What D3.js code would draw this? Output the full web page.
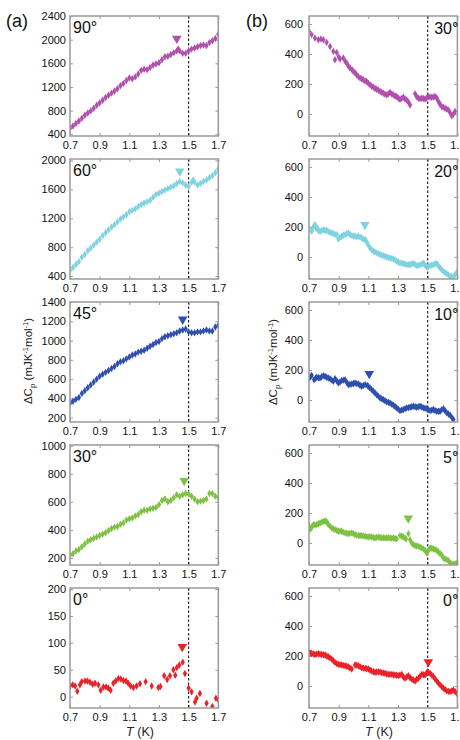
<!DOCTYPE html>
<html><head><meta charset="utf-8">
<script src="https://cdn.jsdelivr.net/npm/d3@7"></script>
<style>body{margin:0;background:#fff}svg{display:block;font-family:Arial,"Liberation Sans",sans-serif}</style>
</head><body><svg id="c" width="460" height="740"></svg>
<script>
// ---------- data ----------
const xTicks = [0.7, 0.9, 1.1, 1.3, 1.5, 1.7];
const angleLabelsA = ["90°", "60°", "45°", "30°", "0°"];
const angleLabelsB = ["30°", "20°", "10°", "5°", "0°"];
const yTicksA = [[400,800,1200,1600,2000,2400],[400,800,1200,1600,2000],[200,400,600,800,1000,1200,1400],[200,400,600,800,1000],[0,50,100,150,200]];
const yTicksB = [0,200,400,600];
const colors = ["#b14fae","#7fd3e0","#2e4fad","#7dc242","#e8232b"];

const s90 = [[0.70,500],[0.72,540],[0.74,580],[0.76,625],[0.78,670],[0.80,720],[0.82,760],[0.84,795],[0.86,840],[0.88,890],[0.90,930],[0.92,975],[0.94,1020],[0.96,1060],[0.98,1095],[1.00,1130],[1.02,1170],[1.04,1220],[1.06,1260],[1.08,1310],[1.10,1350],[1.12,1340],[1.14,1370],[1.16,1420],[1.18,1480],[1.20,1500],[1.22,1490],[1.24,1530],[1.26,1570],[1.28,1590],[1.30,1610],[1.32,1660],[1.34,1710],[1.36,1720],[1.38,1750],[1.40,1780],[1.42,1810],[1.43,1840],[1.44,1810],[1.46,1770],[1.48,1770],[1.50,1810],[1.52,1840],[1.54,1860],[1.56,1880],[1.58,1900],[1.60,1910],[1.62,1900],[1.64,1950],[1.66,1980],[1.68,2020],[1.70,2090]];
const s60 = [[0.70,480],[0.72,520],[0.74,560],[0.76,600],[0.78,660],[0.80,700],[0.82,750],[0.84,790],[0.86,830],[0.88,870],[0.90,910],[0.92,960],[0.94,1000],[0.96,1040],[0.98,1080],[1.00,1110],[1.02,1150],[1.04,1190],[1.06,1220],[1.08,1250],[1.10,1290],[1.12,1310],[1.14,1330],[1.16,1360],[1.18,1390],[1.20,1410],[1.22,1430],[1.24,1450],[1.26,1490],[1.28,1530],[1.30,1550],[1.32,1570],[1.34,1590],[1.36,1610],[1.38,1630],[1.40,1650],[1.42,1680],[1.44,1710],[1.46,1690],[1.48,1660],[1.50,1640],[1.52,1700],[1.53,1730],[1.54,1700],[1.56,1660],[1.58,1680],[1.60,1710],[1.62,1730],[1.64,1760],[1.66,1790],[1.68,1830],[1.70,1880]];
const s45 = [[0.70,350],[0.72,370],[0.74,390],[0.76,410],[0.78,450],[0.80,480],[0.82,510],[0.84,540],[0.86,570],[0.88,600],[0.90,630],[0.92,650],[0.94,670],[0.96,690],[0.98,710],[1.00,730],[1.02,760],[1.04,780],[1.06,790],[1.08,810],[1.10,830],[1.12,850],[1.14,860],[1.16,880],[1.18,890],[1.20,900],[1.22,920],[1.24,940],[1.26,960],[1.28,980],[1.30,990],[1.32,1020],[1.34,1040],[1.36,1050],[1.38,1060],[1.40,1070],[1.42,1080],[1.44,1100],[1.46,1110],[1.48,1120],[1.50,1090],[1.52,1080],[1.54,1080],[1.56,1090],[1.58,1090],[1.60,1100],[1.62,1110],[1.64,1100],[1.66,1100],[1.68,1140],[1.70,1160]];
const s30a = [[0.70,220],[0.72,230],[0.74,250],[0.76,260],[0.78,280],[0.80,300],[0.82,320],[0.84,330],[0.86,340],[0.88,350],[0.90,360],[0.92,370],[0.94,380],[0.96,395],[0.98,410],[1.00,420],[1.02,425],[1.04,440],[1.06,450],[1.08,470],[1.10,480],[1.12,485],[1.14,500],[1.16,510],[1.18,530],[1.20,540],[1.22,540],[1.24,550],[1.26,555],[1.28,560],[1.30,580],[1.32,610],[1.34,620],[1.36,600],[1.38,610],[1.40,630],[1.42,650],[1.44,640],[1.46,650],[1.48,660],[1.50,655],[1.52,640],[1.54,620],[1.56,600],[1.58,605],[1.60,610],[1.62,620],[1.64,660],[1.66,660],[1.68,640],[1.70,630]];
const s0a = [[0.70,20],[0.718,22],[0.734,20],[0.749,10],[0.767,22],[0.779,28],[0.801,29],[0.817,29],[0.835,27],[0.853,23],[0.869,25],[0.891,22],[0.907,12],[0.925,18],[0.943,18],[0.958,16],[0.974,12],[0.992,25],[1.008,29],[1.026,34],[1.042,33],[1.06,30],[1.078,29],[1.093,25],[1.109,20],[1.127,17],[1.149,20],[1.172,24],[1.21,28],[1.251,20],[1.296,17],[1.31,19],[1.335,39],[1.355,32],[1.374,39],[1.397,50],[1.41,40],[1.42,54],[1.437,59],[1.46,64],[1.475,43],[1.50,16],[1.52,9],[1.543,-10],[1.554,-3],[1.576,6],[1.621,-12],[1.66,-18],[1.684,-3],[1.70,-6]];

const s30b = [[0.70,551],[0.718,529],[0.74,506],[0.763,495],[0.78,500],[0.797,495],[0.819,477],[0.842,450],[0.864,417],[0.875,361],[0.887,410],[0.90,380],[0.909,366],[0.931,373],[0.945,350],[0.954,339],[0.965,320],[0.976,306],[0.99,295],[0.999,283],[1.01,275],[1.021,261],[1.032,250],[1.044,239],[1.055,235],[1.066,228],[1.078,220],[1.089,216],[1.10,205],[1.111,194],[1.122,185],[1.134,179],[1.145,170],[1.156,165],[1.168,158],[1.179,150],[1.19,145],[1.201,138],[1.212,132],[1.224,127],[1.235,135],[1.246,143],[1.258,133],[1.269,127],[1.28,120],[1.291,116],[1.302,105],[1.313,98],[1.325,104],[1.336,111],[1.347,100],[1.358,94],[1.37,78],[1.381,60],[1.415,134],[1.426,115],[1.437,105],[1.448,102],[1.46,105],[1.471,103],[1.482,100],[1.493,106],[1.504,116],[1.515,112],[1.527,111],[1.538,113],[1.549,116],[1.56,108],[1.572,83],[1.583,65],[1.594,49],[1.605,45],[1.617,38],[1.628,32],[1.639,27],[1.65,10],[1.662,-13],[1.673,0],[1.684,16]];
const s20 = [[0.70,193],[0.718,171],[0.729,200],[0.74,216],[0.748,190],[0.756,193],[0.765,175],[0.774,171],[0.785,175],[0.797,182],[0.808,176],[0.819,178],[0.83,170],[0.842,164],[0.853,160],[0.864,156],[0.875,150],[0.887,149],[0.898,120],[0.909,130],[0.92,138],[0.931,145],[0.943,149],[0.954,155],[0.965,160],[0.976,150],[0.988,142],[0.999,140],[1.01,138],[1.021,135],[1.033,138],[1.044,133],[1.055,127],[1.066,120],[1.078,116],[1.085,105],[1.093,93],[1.10,78],[1.111,60],[1.122,48],[1.134,38],[1.145,33],[1.156,27],[1.168,22],[1.179,16],[1.19,12],[1.201,9],[1.212,5],[1.224,0],[1.235,-4],[1.246,-7],[1.258,-10],[1.269,-13],[1.28,-20],[1.291,-29],[1.302,-34],[1.313,-40],[1.325,-42],[1.336,-44],[1.347,-48],[1.358,-51],[1.37,-52],[1.381,-51],[1.392,-47],[1.403,-44],[1.415,-50],[1.426,-58],[1.437,-56],[1.448,-53],[1.46,-48],[1.471,-40],[1.482,-55],[1.493,-67],[1.504,-62],[1.516,-58],[1.527,-55],[1.538,-51],[1.549,-47],[1.561,-44],[1.572,-58],[1.583,-73],[1.594,-85],[1.606,-96],[1.617,-104],[1.628,-111],[1.64,-120],[1.651,-129],[1.662,-131],[1.673,-133],[1.685,-118],[1.696,-102]];
const s10 = [[0.70,146],[0.711,155],[0.718,164],[0.734,135],[0.745,145],[0.752,151],[0.763,148],[0.774,146],[0.785,155],[0.797,162],[0.808,157],[0.819,151],[0.83,146],[0.842,142],[0.853,132],[0.864,124],[0.875,142],[0.887,128],[0.898,113],[0.909,120],[0.92,129],[0.931,132],[0.943,135],[0.954,118],[0.965,102],[0.976,104],[0.988,106],[0.999,110],[1.01,113],[1.021,109],[1.033,106],[1.044,98],[1.055,91],[1.066,96],[1.078,102],[1.093,97],[1.10,90],[1.111,80],[1.122,70],[1.134,58],[1.145,46],[1.156,35],[1.168,24],[1.179,13],[1.19,8],[1.201,2],[1.212,-5],[1.224,-13],[1.235,-16],[1.246,-20],[1.258,-28],[1.269,-35],[1.28,-44],[1.291,-53],[1.302,-62],[1.313,-71],[1.325,-68],[1.336,-64],[1.347,-58],[1.358,-53],[1.37,-51],[1.381,-49],[1.392,-45],[1.403,-42],[1.415,-45],[1.426,-49],[1.437,-45],[1.448,-42],[1.46,-47],[1.471,-53],[1.482,-55],[1.493,-58],[1.504,-65],[1.516,-71],[1.527,-68],[1.538,-64],[1.549,-70],[1.561,-75],[1.572,-75],[1.583,-75],[1.594,-66],[1.606,-58],[1.617,-72],[1.628,-86],[1.64,-94],[1.651,-102],[1.662,-116],[1.673,-131]];
const s5 = [[0.70,111],[0.711,93],[0.72,108],[0.729,122],[0.74,120],[0.752,122],[0.763,128],[0.774,133],[0.785,138],[0.797,144],[0.808,146],[0.815,144],[0.825,135],[0.83,122],[0.842,112],[0.853,100],[0.864,94],[0.875,89],[0.887,84],[0.898,78],[0.909,80],[0.92,78],[0.931,72],[0.943,67],[0.954,65],[0.965,62],[0.976,64],[0.988,67],[0.999,62],[1.01,56],[1.021,52],[1.033,49],[1.044,50],[1.055,49],[1.066,47],[1.078,44],[1.089,42],[1.10,40],[1.111,42],[1.122,40],[1.134,36],[1.145,33],[1.156,36],[1.168,40],[1.179,36],[1.19,33],[1.201,35],[1.212,33],[1.224,33],[1.235,35],[1.246,33],[1.258,31],[1.269,33],[1.28,30],[1.291,27],[1.313,49],[1.325,45],[1.336,40],[1.347,33],[1.354,27],[1.37,62],[1.381,22],[1.392,0],[1.403,-10],[1.415,-18],[1.426,-20],[1.437,-22],[1.448,-28],[1.46,-33],[1.471,-40],[1.482,-49],[1.493,-67],[1.504,-50],[1.516,-33],[1.527,-35],[1.538,-40],[1.549,-44],[1.561,-49],[1.572,-60],[1.583,-70],[1.594,-80],[1.606,-100],[1.617,-106],[1.628,-111],[1.64,-118],[1.651,-133],[1.662,-140],[1.673,-144],[1.685,-140],[1.696,-133]];
const s0b = [[0.70,224],[0.711,220],[0.718,217],[0.729,213],[0.74,210],[0.752,213],[0.763,215],[0.774,212],[0.785,210],[0.797,208],[0.808,206],[0.819,200],[0.83,195],[0.842,187],[0.853,179],[0.864,168],[0.875,157],[0.887,150],[0.898,144],[0.909,142],[0.92,140],[0.931,137],[0.943,135],[0.954,131],[0.965,128],[0.976,120],[0.988,113],[1.01,140],[1.021,138],[1.033,135],[1.044,128],[1.055,122],[1.066,119],[1.078,117],[1.089,115],[1.10,113],[1.111,106],[1.122,100],[1.134,95],[1.145,91],[1.156,93],[1.168,95],[1.179,92],[1.19,89],[1.201,86],[1.212,84],[1.224,80],[1.235,77],[1.246,77],[1.258,77],[1.269,75],[1.28,73],[1.291,71],[1.302,69],[1.313,73],[1.325,77],[1.336,60],[1.347,51],[1.358,60],[1.37,69],[1.381,55],[1.392,46],[1.403,40],[1.415,33],[1.426,45],[1.437,51],[1.448,65],[1.46,77],[1.471,75],[1.482,73],[1.493,85],[1.498,95],[1.504,90],[1.516,84],[1.527,73],[1.538,62],[1.549,48],[1.561,33],[1.572,20],[1.583,7],[1.594,-4],[1.606,-15],[1.617,-24],[1.628,-33],[1.64,-36],[1.651,-38],[1.662,-33],[1.673,-27],[1.685,-38],[1.696,-49]];

// transition markers (down triangles)
const triA = [[1.42,2020],[1.44,1850],[1.46,1220],[1.47,750],[1.457,93]];
const triB = [null,[1.077,215],[1.106,175],[1.369,165],[1.504,160]];

const seriesA = [s90, s60, s45, s30a, s0a];
const seriesB = [s30b, s20, s10, s5, s0b];
const yDomainsA = [[370,2400],[360,2020],[155,1400],[150,1005],[-21,202]];
const yDomainB = [-147,653];
const tc = 1.5;

// ---------- layout ----------
const svg = d3.select("#c");
const tops = [16,159,302,445,588];
const ph = 120;
const cols = [{x0:70, x1:218.3, pad:4}, {x0:309, x1:457.4, pad:6}];

function panel(ci, pi, data, yDom, yTicks, color, label, tri){
  const c = cols[ci];
  const top = tops[pi], bot = top + ph;
  const x = d3.scaleLinear().domain([0.7,1.7]).range([c.x0, c.x1]);
  const y = d3.scaleLinear().domain(yDom).range([bot, top]);
  const g = svg.append("g");
  const id = "clip"+ci+"_"+pi;
  g.append("clipPath").attr("id", id).append("rect")
    .attr("x", c.x0).attr("y", top).attr("width", c.x1-c.x0).attr("height", ph);

  const ax = (sel)=>{ sel.select(".domain").remove();
    sel.selectAll("line").attr("stroke","#9a9a9a").attr("stroke-width",1);
    sel.selectAll("text").attr("fill","#111").style("font-size","11px"); };
  g.append("g").attr("transform",`translate(${c.x0},0)`)
    .call(d3.axisLeft(y).tickValues(yTicks).tickSize(-3).tickPadding(c.pad).tickFormat(d3.format("d"))).call(ax);
  g.append("g").attr("transform",`translate(${c.x1},0)`)
    .call(d3.axisRight(y).tickValues(yTicks).tickSize(-3).tickFormat("")).call(ax);
  g.append("g").attr("transform",`translate(0,${bot})`)
    .call(d3.axisBottom(x).tickValues(xTicks).tickSize(-3).tickPadding(5).tickFormat(d3.format(".1f"))).call(ax);
  g.append("g").attr("transform",`translate(0,${top})`)
    .call(d3.axisTop(x).tickValues(xTicks).tickSize(-3).tickFormat("")).call(ax);

  g.append("line").attr("x1", x(tc)).attr("x2", x(tc)).attr("y1", top).attr("y2", bot)
    .attr("stroke","#000").attr("stroke-width",1).attr("stroke-dasharray","2.5,2");

  const sym = d3.symbol().type(d3.symbolDiamond).size(16);
  g.append("g").attr("clip-path",`url(#${id})`).selectAll("path").data(data).join("path")
    .attr("d", sym).attr("transform", d=>`translate(${x(d[0])},${y(d[1])})`).attr("fill", color);

  if (tri){
    const t = d3.symbol().type(d3.symbolTriangle).size(40);
    g.append("path").attr("d", t).attr("transform",`translate(${x(tri[0])},${y(tri[1])}) rotate(180)`).attr("fill", color);
  }

  g.append("rect").attr("x", c.x0).attr("y", top).attr("width", c.x1-c.x0).attr("height", ph)
    .attr("fill","none").attr("stroke","#9a9a9a").attr("stroke-width",1.5);

  if (ci===0) g.append("text").attr("x", c.x0+3).attr("y", top+17).text(label).style("font-size","16px").attr("fill","#111");
  else g.append("text").attr("x", c.x1+1).attr("y", top+18).attr("text-anchor","end").text(label).style("font-size","16px").attr("fill","#111");
}

for (let i=0;i<5;i++){
  panel(0, i, seriesA[i], yDomainsA[i], yTicksA[i], colors[i], angleLabelsA[i], triA[i]);
  panel(1, i, seriesB[i], yDomainB, yTicksB, colors[i], angleLabelsB[i], triB[i]);
}

svg.append("text").attr("x",6).attr("y",27).text("(a)").style("font-size","18px").attr("fill","#111");
svg.append("text").attr("x",246).attr("y",27).text("(b)").style("font-size","18px").attr("fill","#111");

function yTitle(cx, cy){
  const t = svg.append("text").attr("transform",`translate(${cx},${cy}) rotate(-90)`)
    .attr("text-anchor","middle").style("font-size","11.5px").attr("fill","#222");
  t.append("tspan").text("ΔC");
  t.append("tspan").text("p").style("font-size","8px").attr("dy","3");
  t.append("tspan").text(" (mJK").attr("dy","-3");
  t.append("tspan").text("-1").style("font-size","7.5px").attr("dy","-4");
  t.append("tspan").text("mol").attr("dy","4");
  t.append("tspan").text("-1").style("font-size","7.5px").attr("dy","-4");
  t.append("tspan").text(")").attr("dy","4");
}
yTitle(32, 361);
yTitle(277, 362);

function xTitle(cx){
  const t = svg.append("text").attr("x",cx).attr("y",736).attr("text-anchor","middle").style("font-size","12.5px").attr("fill","#222");
  t.append("tspan").text("T").style("font-style","italic");
  t.append("tspan").text(" (K)");
}
xTitle(140); xTitle(379);
</script></body></html>
